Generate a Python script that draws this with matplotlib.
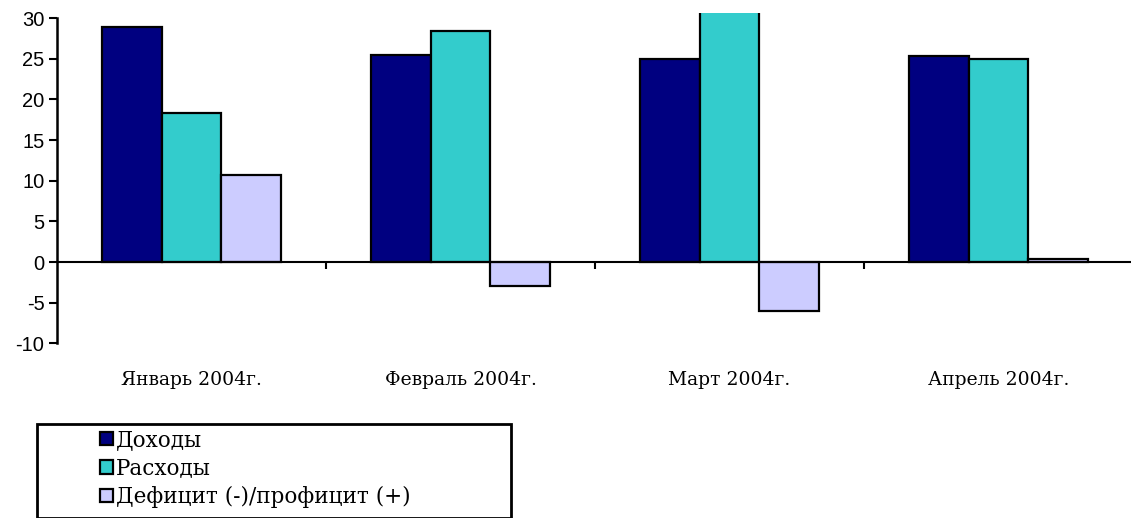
import numpy as np
import matplotlib
matplotlib.use("Agg")
import matplotlib.pyplot as plt
from matplotlib.patches import Rectangle

# data
months = ["Январь 2004г.", "Февраль 2004г.", "Март 2004г.", "Апрель 2004г."]
income = [28.9, 25.5, 25.0, 25.3]
expense = [18.3, 28.4, 31.0, 25.0]
balance = [10.7, -2.9, -6.0, 0.4]
series_names = ["Доходы", "Расходы", "Дефицит (-)/профицит (+)"]
colors = ["#000080", "#33CCCC", "#CCCCFF"]
yticks = [-10, -5, 0, 5, 10, 15, 20, 25, 30]

W, H = 1131, 518
fig = plt.figure(figsize=(W / 100, H / 100), dpi=100)
ax = fig.add_axes([57 / W, 1 - 343.3 / H, 1074 / W, 330 / H])

x = np.arange(len(months))
bw = 0.223
bars = []
for i, (vals, c) in enumerate(zip([income, expense, balance], colors)):
    b = ax.bar(x + (i - 1) * bw, vals, bw, color=c, edgecolor="black",
               linewidth=1.6, label=series_names[i])
    bars.append(b)

ax.set_xlim(-0.5, -0.5 + 1074 / 269)
ax.set_ylim(-10, 30.6)

for s in ["top", "right"]:
    ax.spines[s].set_visible(False)
ax.spines["left"].set_bounds(-10, 30)
ax.spines["left"].set_linewidth(1.8)
ax.spines["bottom"].set_position(("data", 0))
ax.spines["bottom"].set_linewidth(1.5)

ax.set_yticks(yticks)
ax.set_yticklabels([str(v) for v in yticks], fontname="Liberation Sans", fontsize=14.5)
ax.tick_params(axis="y", direction="out", length=6, width=1.5, pad=3)

ax.set_xticks([0.5, 1.5, 2.5])
ax.set_xticklabels([])
ax.tick_params(axis="x", direction="out", length=5, width=1.5)

for xi, m in zip(x, months):
    ax.text(xi, -14.5, m, ha="center", va="center", fontname="DejaVu Serif",
            fontsize=13.5, clip_on=False)

# legend box
fig.patches.append(Rectangle((37 / W, 0), 474 / W, (H - 424) / H,
                             transform=fig.transFigure, fill=False,
                             edgecolor="black", linewidth=2, clip_on=False))
fig.legend(handles=bars, labels=series_names, loc="upper left",
           bbox_to_anchor=(100 / W, 1 - 429 / H), frameon=False,
           prop={"family": "DejaVu Serif", "size": 15.5},
           handlelength=0.6, handleheight=0.6, handletextpad=0.15,
           labelspacing=0.3, borderaxespad=0, borderpad=0)

fig.savefig("out.png", dpi=100)
